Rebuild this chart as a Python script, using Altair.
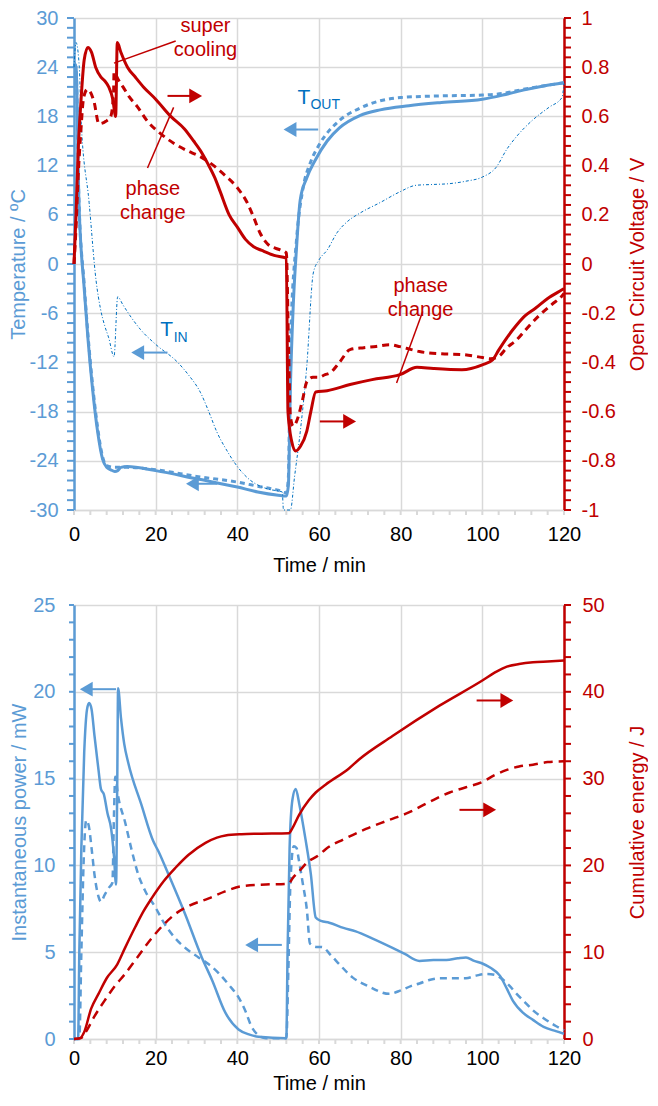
import altair as alt
import pandas as pd

BLUE = "#5B9BD5"
TXT_BLUE = "#0070C0"
RED = "#C00000"
GRID = "#D9D9D9"
FONT = "Liberation Sans"
FS = 20

# ------------------------------------------------------------------ top panel data
tout_s_t = [0, 0.5, 1.2, 2.5, 3.4, 4.5, 5.8, 7, 8, 9, 10, 10.7, 11.5, 13, 20, 30, 40, 45, 50, 52,
            52.5, 53, 53.7, 54.5, 55.4, 57, 59, 62, 65, 70, 75, 82, 90, 100, 105, 110, 115, 120]
tout_s_v = [24.5, 24, 7.8, -3, -9, -15, -20.5, -23.8, -24.8, -25.1, -25.3, -25.2, -24.8, -24.7, -25.2,
            -26.2, -27.2, -27.8, -28.2, -28.3, -27, -15, -5, 2, 7.8, 10.5, 12.6, 15, 16.6, 18.1, 18.8,
            19.3, 19.7, 20.1, 20.6, 21.2, 21.7, 22.1]

tout_d_t = [0, 0.5, 1.2, 2.5, 3.4, 4.5, 5.8, 7, 8, 10, 13, 20, 30, 40, 45, 50, 52,
            52.5, 53, 54.5, 56, 58, 60, 65, 70, 75, 80, 90, 100, 105, 110, 120]
tout_d_v = [24.5, 24, 8, -2.5, -8.5, -14.5, -20, -23.5, -24.6, -24.8, -24.8, -25.1, -25.9, -26.6,
            -27.1, -27.6, -27.9, -26, -10, 3, 9, 12.5, 14.5, 17.5, 19, 19.9, 20.3, 20.5, 20.6, 20.8,
            21.3, 22.1]

tin_t = [0, 0.5, 1.3, 1.7, 3.7, 5.4, 6.5, 7.5, 8.5, 9.8, 10.7, 12, 14, 16.3, 20, 25.4, 28, 31, 33, 35,
         37.5, 40, 43, 45.6, 48, 51, 51.3, 53, 54, 55.4, 57, 58.6, 60, 62, 64.4, 67, 70, 75, 79.8,
         83.8, 88, 92, 96, 100, 103.4, 106, 108.3, 112.2, 116.3, 119.5, 120]
tin_v = [24, 27, 24, 17.9, 7.5, -2, -5.5, -7.5, -9, -11.3, -4, -5, -6.5, -8, -9.8, -12, -13.5, -15.7,
         -18, -20.5, -22.8, -24.7, -26.3, -27.1, -27.5, -27.8, -30, -30, -26, -20.5, -12.5, -1.1, 0.5,
         1.7, 3.8, 5.2, 6.2, 7.5, 8.8, 9.6, 9.7, 9.8, 10.1, 10.6, 11.8, 14, 15.5, 17.5, 19.1, 20.3, 22]

v_s_t = [0, 0.5, 1, 1.7, 2.5, 3.4, 4.3, 5.3, 6.6, 7.5, 8.5, 9.5, 10.2, 10.6, 11.5, 13.1, 15, 17, 20,
         23.7, 27, 29.3, 31, 32.7, 34.5, 35.9, 38, 40, 42, 44, 46, 49, 52, 52.4, 53.3, 54.3, 55.5, 57,
         58, 59.2, 62, 67.6, 73, 79.8, 84, 88, 95, 100, 102.5, 104, 106, 108.3, 110.5, 113, 116, 119.5, 120]
v_s_v = [0, 0.2, 0.45, 0.66, 0.83, 0.88, 0.86, 0.8, 0.76, 0.745, 0.72, 0.67, 0.6, 0.9, 0.86, 0.8,
         0.76, 0.72, 0.67, 0.6, 0.55, 0.5, 0.46, 0.41, 0.35, 0.29, 0.2, 0.15, 0.1, 0.07, 0.055, 0.035,
         0.024, -0.6, -0.72, -0.76, -0.74, -0.68, -0.6, -0.52, -0.515, -0.49, -0.47, -0.45, -0.42,
         -0.425, -0.43, -0.41, -0.39, -0.35, -0.3, -0.25, -0.21, -0.18, -0.14, -0.105, -0.1]

v_d_t = [0, 0.5, 1, 1.6, 2.4, 3.3, 4.9, 6.1, 7.8, 9, 9.7, 9.8, 10.2, 11, 12, 13.5, 15.5, 18, 21.2,
         24.5, 27.8, 30.5, 33.4, 37, 40, 42.4, 44, 45.6, 47.5, 50.5, 52, 52.5, 53, 53.7, 54.5, 56, 57,
         58.5, 60, 61.5, 62.7, 65, 67.6, 71, 74, 77.3, 79.8, 82, 84.6, 90, 95, 100, 102, 104, 106,
         108.3, 111, 113.9, 117, 119.5, 120]
v_d_v = [0, 0.15, 0.35, 0.52, 0.68, 0.71, 0.66, 0.57, 0.58, 0.6, 0.7, 0.78, 0.77, 0.745, 0.72, 0.68,
         0.64, 0.58, 0.53, 0.49, 0.46, 0.44, 0.41, 0.36, 0.31, 0.25, 0.19, 0.125, 0.08, 0.057, 0.045,
         -0.3, -0.62, -0.66, -0.64, -0.55, -0.48, -0.46, -0.46, -0.45, -0.443, -0.4, -0.348, -0.34,
         -0.335, -0.328, -0.336, -0.345, -0.356, -0.365, -0.368, -0.38, -0.385, -0.376, -0.34, -0.31,
         -0.26, -0.21, -0.165, -0.13, -0.12]

# annotations (top panel, temperature units)
top_arrow_x1 = [22.9, 59.8, 22.9, 35.1, 60.2]
top_arrow_x2 = [29.0, 53.5, 16.2, 29.6, 66.8]
top_arrow_y = [20.5, 16.4, -10.8, -26.8, -19.2]
top_head_x = [29.8, 52.9, 15.6, 29.0, 67.5]
top_arrow_color = ["red", "blue", "blue", "blue", "red"]

top_leader_x1 = [24.9, 18.0, 85.4]
top_leader_y1 = [27.2, 11.7, -5.8]
top_leader_x2 = [9.8, 24.4, 79.0]
top_leader_y2 = [24.5, 19.1, -14.5]

top_note_text = ["super\ncooling", "phase\nchange", "phase\nchange"]
top_note_x = [32.2, 19.3, 84.9]
top_note_y = [29.0, 9.2, -2.7]

sym_big = ["T", "T"]
sym_big_x = [56.3, 22.7]
sym_big_y = [20.3, -8.0]
sym_sub = ["OUT", "IN"]
sym_sub_x = [57.9, 24.4]
sym_sub_y = [19.4, -9.0]

# ------------------------------------------------------------------ bottom panel data
p_s_t = [0, 1, 1.3, 1.8, 2.5, 3.2, 3.7, 4.3, 5, 6, 6.6, 7.3, 8.2, 9.1, 9.8, 10.3, 10.6, 10.8, 11.5,
         12.3, 13.3, 16.5, 19.4, 20.7, 23.1, 27.2, 31.3, 33.8, 37.1, 40.3, 43, 45.2, 52, 52.3, 52.8,
         53.5, 54.3, 55.2, 56.7, 58, 59.2, 60.5, 62.5, 66, 69, 73, 78, 81, 84.6, 88, 91.2, 94, 96, 98,
         100, 102, 104.3, 106, 107.5, 110, 112.4, 115, 118, 120]
p_s_v = [0, 0, 5, 11, 16.5, 19, 19.35, 19, 17.5, 15.5, 14.4, 14.1, 13, 12.1, 10.5, 8.9, 15, 20.2,
         18.5, 17, 15.9, 13.5, 11.4, 10.8, 9.5, 7.2, 4.7, 3.4, 1.5, 0.55, 0.25, 0.13, 0.05, 5, 11, 13.8,
         14.4, 13.5, 11.5, 9.5, 7.0, 6.8, 6.7, 6.4, 6.2, 5.8, 5.25, 4.9, 4.5, 4.55, 4.55, 4.65, 4.7,
         4.5, 4.35, 4.1, 3.65, 2.9, 2.2, 1.5, 1.1, 0.7, 0.45, 0.3]

p_d_t = [0, 1.3, 1.8, 2.4, 3, 3.6, 4.3, 5, 6, 6.6, 7.5, 8.5, 9.4, 9.8, 10.1, 10.8, 12.5, 14, 15.7,
         17.5, 19.9, 22, 24.8, 27.5, 30.5, 33, 35.4, 38, 40.3, 42, 43.5, 45, 47, 52, 52.5, 53, 53.8,
         54.5, 55, 56, 57, 57.8, 59.5, 60.7, 63, 65, 68.2, 72, 77.2, 80, 82.5, 84.6, 87, 89.5, 93, 96,
         98.5, 101, 103, 104.3, 106.5, 108.4, 110.5, 112.4, 115, 118, 120]
p_d_v = [0, 0, 5, 10.5, 12.6, 12.3, 11, 9.5, 8.2, 7.9, 8.3, 8.7, 9, 13, 15.1, 14, 12.5, 11, 9.5, 8.5,
         7.6, 6.7, 5.8, 5.2, 4.7, 4.3, 3.8, 3.1, 2.4, 1.6, 0.7, 0.25, 0.05, 0.05, 4, 9, 11.1, 11,
         10.4, 9, 7.5, 5.5, 5.3, 5.3, 4.8, 4.3, 3.55, 3.05, 2.6, 2.8, 3.05, 3.2, 3.4, 3.5, 3.5, 3.5,
         3.65, 3.75, 3.7, 3.55, 3.1, 2.6, 2.1, 1.65, 1.2, 0.75, 0.5]

e_s_t = [0, 1.5, 2.5, 4.2, 6, 8, 10.6, 12.5, 15, 17, 19, 22, 24.8, 28, 32.2, 35, 37.1, 41, 45.2,
         52.6, 53.5, 55.1, 57.5, 59.2, 61.6, 67.4, 69.8, 78, 89.5, 100, 103, 106, 109, 112.4, 116, 120]
e_s_v = [0, 0.1, 0.8, 3.5, 5.2, 7, 8.6, 10.5, 12.9, 14.7, 16.2, 18.2, 19.7, 21.2, 22.6, 23.2, 23.45,
         23.6, 23.65, 23.7, 24.3, 25.8, 27.5, 28.4, 29.3, 31.2, 32.2, 34.9, 38.4, 41.3, 42.2, 42.9,
         43.2, 43.4, 43.5, 43.6]

e_d_t = [0, 1.7, 3, 5, 7.6, 10, 12.5, 15.5, 19, 22, 24.8, 28, 33, 37, 41, 47, 52.6, 53.5, 55.1, 57,
         60, 61.7, 66, 71.5, 77, 82, 87, 92, 96, 100, 103, 106, 109, 112.4, 116, 120]
e_d_v = [0, 0.1, 0.9, 2.6, 4.5, 6.1, 7.5, 9.4, 11.6, 13.2, 14.4, 15.3, 16.2, 17, 17.6, 17.8, 17.9,
         18.5, 19.3, 20.3, 21.2, 21.9, 23, 24.2, 25.2, 26.1, 27.3, 28.4, 29, 29.6, 30.4, 31, 31.4,
         31.6, 31.9, 32]

# annotations (bottom panel, power units)
bot_arrow_x1 = [10.3, 50.9, 98.6, 94.4]
bot_arrow_x2 = [3.6, 44.1, 105.4, 101.2]
bot_arrow_y = [20.15, 5.42, 19.5, 13.2]
bot_head_x = [3.0, 43.5, 106.0, 101.8]
bot_arrow_color = ["blue", "blue", "red", "red"]

# tick values (major + minor) for each axis
time_ticks = list(range(0, 121, 4))
temp_ticks = [round(-30 + 1.2 * k, 1) for k in range(51)]
volt_ticks = [round(-1 + 0.04 * k, 2) for k in range(51)]
power_ticks = list(range(0, 26))
energy_ticks = list(range(0, 51, 2))

# ------------------------------------------------------------------ helpers
W = 490
H_TOP = 492
H_BOT = 434


def make_xaxis(labpad, titpad):
    return alt.Axis(
        values=time_ticks,
        labelExpr="datum.value % 20 == 0 ? '' + datum.value : ''",
        title="Time / min", grid=True, gridColor=GRID, gridWidth=1.5,
        gridOpacity={"condition": {"test": "datum.value % 20 == 0", "value": 1}, "value": 0},
        domainColor=GRID, domainWidth=1.5, ticks=True, tickColor=GRID, tickWidth=2, tickSize=5,
        tickOpacity=0,
        labelColor="black", titleColor="black", labelFont=FONT, titleFont=FONT,
        labelFontSize=FS, titleFontSize=FS, titleFontWeight="normal",
        labelPadding=labpad, titlePadding=titpad, labelOverlap=False, labelFlush=False,
    )


xscale = alt.Scale(domain=[0, 120], nice=False, zero=False)


def yaxis(vals, test, color, orient, title, labpad, titpad, grid, tsize=6):
    kw = dict(values=vals, orient=orient, title=title,
              labelExpr="(" + test + ") ? '' + datum.value : ''",
              labelColor=color, titleColor=color, domainColor=color,
              ticks=True, tickColor=color, tickOpacity=0,
              domainWidth=2.5, tickWidth=2, tickSize=tsize,
              labelFont=FONT, titleFont=FONT, labelFontSize=FS, titleFontSize=FS,
              titleFontWeight="normal", labelPadding=labpad, titlePadding=titpad,
              labelOverlap=False, labelFlush=False)
    if grid:
        kw.update(grid=True, gridColor=GRID, gridWidth=1.5,
                  gridOpacity={"condition": {"test": test, "value": 1}, "value": 0})
    else:
        kw["grid"] = False
    if orient == "right":
        kw["titleAngle"] = 270
    return alt.Axis(**kw)


def build_panel(xaxis, height):
    def X(field):
        return alt.X(field, type="quantitative", scale=xscale, axis=xaxis)

    def line(t, v, yscale, color, width, dash=None, axis=None):
        d = pd.DataFrame({"t": t, "v": v, "i": list(range(len(t)))})
        if dash:
            mk = alt.Chart(d).mark_line(color=color, strokeWidth=width, strokeDash=dash,
                                        interpolate="monotone")
        else:
            mk = alt.Chart(d).mark_line(color=color, strokeWidth=width, interpolate="monotone")
        return mk.encode(x=X("t"), y=alt.Y("v:Q", scale=yscale, axis=axis), order=alt.Order("i:Q"))

    def arrows(x1, x2, y, hx, colors, yscale):
        d = pd.DataFrame({"x1": x1, "x2": x2, "y": y, "hx": hx, "c": colors})
        cscale = alt.Scale(domain=["blue", "red"], range=[BLUE, RED])
        shaft = alt.Chart(d).mark_rule(strokeWidth=2).encode(
            x=X("x1"), x2="x2:Q", y=alt.Y("y:Q", scale=yscale, axis=None),
            color=alt.Color("c:N", scale=cscale, legend=None))
        dl = d[d["x2"] < d["x1"]]
        dr = d[d["x2"] > d["x1"]]
        headl = alt.Chart(dl).mark_point(shape="triangle-left", filled=True, size=220, opacity=1).encode(
            x=X("hx"), y=alt.Y("y:Q", scale=yscale, axis=None),
            color=alt.Color("c:N", scale=cscale, legend=None))
        headr = alt.Chart(dr).mark_point(shape="triangle-right", filled=True, size=220, opacity=1).encode(
            x=X("hx"), y=alt.Y("y:Q", scale=yscale, axis=None),
            color=alt.Color("c:N", scale=cscale, legend=None))
        return [shaft, headl, headr]

    def yticks(vals, yscale, side, size, color):
        d = pd.DataFrame({"v": vals})
        xa, xb = (-size, 0) if side == "left" else (W, W + size)
        return alt.Chart(d).mark_rule(color=color, strokeWidth=2, clip=False).encode(
            x=alt.value(xa), x2=alt.value(xb), y=alt.Y("v:Q", scale=yscale, axis=None))

    def xticks(size):
        d = pd.DataFrame({"v": time_ticks})
        return alt.Chart(d).mark_rule(color=GRID, strokeWidth=2, clip=False).encode(
            x=X("v"), y=alt.value(height), y2=alt.value(height + size))

    return X, line, arrows, yticks, xticks


# ------------------------------------------------------------------ top panel
X, line, arrows, yticks, xticks = build_panel(make_xaxis(9, 11), H_TOP)
tscale = alt.Scale(domain=[-30, 30], nice=False, zero=False)
vscale = alt.Scale(domain=[-1, 1], nice=False, zero=False)

t_axis = yaxis(temp_ticks, "round(datum.value*10) % 60 == 0",
               BLUE, "left", "Temperature / ºC", 9, 1, True, tsize=7)
v_axis = yaxis(volt_ticks, "round(datum.value*100) % 20 == 0",
               RED, "right", "Open Circuit Voltage / V", 10, 32, False, tsize=7)

top_layers = [
    xticks(5),
    yticks(temp_ticks, tscale, "left", 7, BLUE),
    yticks(volt_ticks, vscale, "right", 7, RED),
    line(tout_s_t, tout_s_v, tscale, BLUE, 3, axis=t_axis),
    line(tout_d_t, tout_d_v, tscale, BLUE, 3, dash=[5, 4]),
    line(tin_t, tin_v, tscale, TXT_BLUE, 1, dash=[3, 2, 1, 2]),
    line(v_s_t, v_s_v, vscale, RED, 3, axis=v_axis),
    line(v_d_t, v_d_v, vscale, RED, 3, dash=[7, 5]),
]

lead = pd.DataFrame({"x1": top_leader_x1, "y1": top_leader_y1, "x2": top_leader_x2, "y2": top_leader_y2})
top_layers.append(alt.Chart(lead).mark_rule(color=RED, strokeWidth=1.5).encode(
    x=X("x1"), y=alt.Y("y1:Q", scale=tscale, axis=None), x2="x2:Q", y2="y2:Q"))
top_layers += arrows(top_arrow_x1, top_arrow_x2, top_arrow_y, top_head_x, top_arrow_color, tscale)

notes = pd.DataFrame({"txt": top_note_text, "x": top_note_x, "y": top_note_y})
top_layers.append(alt.Chart(notes).mark_text(
    color=RED, font=FONT, fontSize=FS, lineBreak="\n", lineHeight=24, align="center", baseline="middle"
).encode(x=X("x"), y=alt.Y("y:Q", scale=tscale, axis=None), text="txt:N"))

big = pd.DataFrame({"txt": sym_big, "x": sym_big_x, "y": sym_big_y})
top_layers.append(alt.Chart(big).mark_text(
    color=TXT_BLUE, font=FONT, fontSize=21, align="center", baseline="middle"
).encode(x=X("x"), y=alt.Y("y:Q", scale=tscale, axis=None), text="txt:N"))
sub = pd.DataFrame({"txt": sym_sub, "x": sym_sub_x, "y": sym_sub_y})
top_layers.append(alt.Chart(sub).mark_text(
    color=TXT_BLUE, font=FONT, fontSize=14, align="left", baseline="middle"
).encode(x=X("x"), y=alt.Y("y:Q", scale=tscale, axis=None), text="txt:N"))

top = alt.layer(*top_layers).resolve_scale(y="independent", color="independent").properties(
    width=W, height=H_TOP)

# ------------------------------------------------------------------ bottom panel
X, line, arrows, yticks, xticks = build_panel(make_xaxis(4, 5), H_BOT)
pscale = alt.Scale(domain=[0, 25], nice=False, zero=False)
escale = alt.Scale(domain=[0, 50], nice=False, zero=False)

p_axis = yaxis(power_ticks, "datum.value % 5 == 0", BLUE, "left",
               "Instantaneous power / mW", 14, 3, True, tsize=5)
e_axis = yaxis(energy_ticks, "datum.value % 10 == 0", RED, "right",
               "Cumulative energy / J", 11, 43, False, tsize=7)

bot_layers = [
    xticks(5),
    yticks(power_ticks, pscale, "left", 5, BLUE),
    yticks(energy_ticks, escale, "right", 7, RED),
    line(p_s_t, p_s_v, pscale, BLUE, 2.5, axis=p_axis),
    line(p_d_t, p_d_v, pscale, BLUE, 2.5, dash=[7, 5]),
    line(e_s_t, e_s_v, escale, RED, 2.5, axis=e_axis),
    line(e_d_t, e_d_v, escale, RED, 2.5, dash=[9, 6]),
]
bot_layers += arrows(bot_arrow_x1, bot_arrow_x2, bot_arrow_y, bot_head_x, bot_arrow_color, pscale)

bottom = alt.layer(*bot_layers).resolve_scale(y="independent", color="independent").properties(
    width=W, height=H_BOT)

chart = alt.vconcat(top, bottom, spacing=20).properties(
    padding={"left": 0, "top": 0, "right": 0, "bottom": 0}
).configure(font=FONT).configure_view(strokeWidth=0)

chart.save("out.html", embed_options={"renderer": "svg", "actions": False})
